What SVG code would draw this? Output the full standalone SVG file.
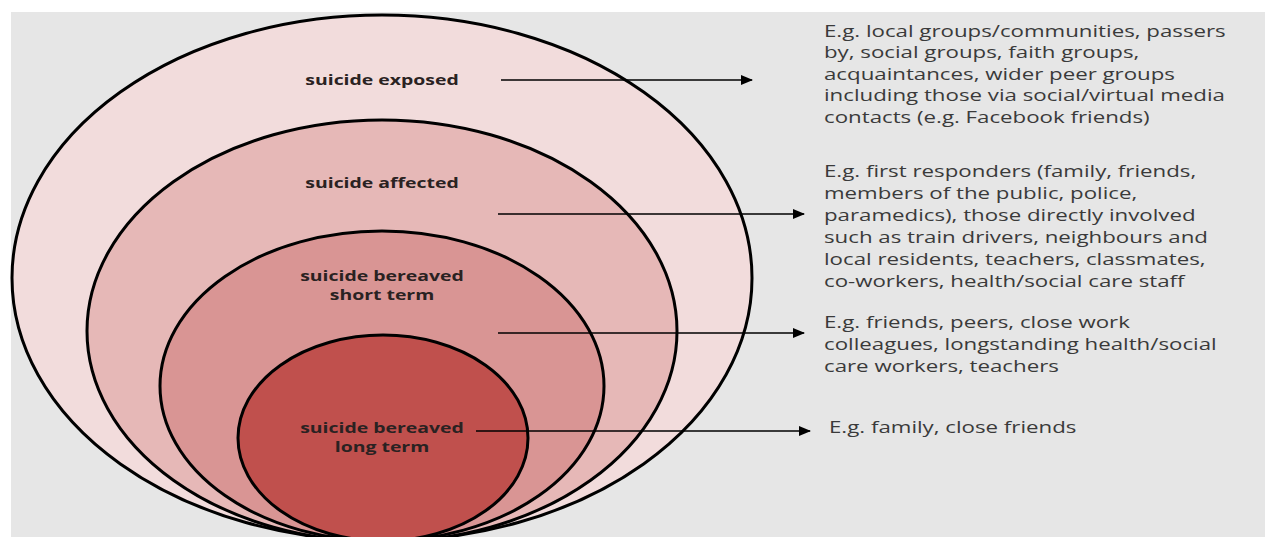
<svg xmlns="http://www.w3.org/2000/svg" width="1265" height="537" viewBox="0 0 1265 537">
<defs>
<marker id="ah" markerWidth="12" markerHeight="10" refX="11" refY="5" orient="auto" markerUnits="userSpaceOnUse">
<path d="M0,0 L12,5 L0,10 Z" fill="#000"/>
</marker>
<style>
.ring{stroke:#000;stroke-width:3}
.lbl{font-family:"Open Sans","Liberation Sans",sans-serif;font-weight:bold;font-size:14.5px;fill:#2a2222;text-anchor:middle}
.desc{font-family:"Open Sans","Liberation Sans",sans-serif;font-size:17px;fill:#3a3a3a}
.conn{stroke:#000;stroke-width:1.6;fill:none;marker-end:url(#ah)}
</style>
</defs>
<rect x="0" y="0" width="1265" height="537" fill="#ffffff"/>
<rect x="11" y="12" width="1254" height="525" fill="#e6e6e6"/>
<g id="exposed">
<ellipse class="ring" cx="382" cy="278" rx="370" ry="263" fill="#f2dcdc"/>
<text class="lbl" transform="translate(382,85) scale(1.34,1)">suicide exposed</text>
</g>
<g id="affected">
<ellipse class="ring" cx="382" cy="331" rx="295" ry="211" fill="#e6b8b7"/>
<text class="lbl" transform="translate(382,188) scale(1.34,1)">suicide affected</text>
</g>
<g id="bereaved-short">
<ellipse class="ring" cx="382" cy="386" rx="222" ry="155" fill="#d99594"/>
<text class="lbl" transform="translate(382,280.5) scale(1.34,1)">suicide bereaved</text>
<text class="lbl" transform="translate(382,299.5) scale(1.34,1)">short term</text>
</g>
<g id="bereaved-long">
<ellipse class="ring" cx="383" cy="438" rx="145" ry="103" fill="#c0504d"/>
<text class="lbl" transform="translate(382,432.5) scale(1.34,1)">suicide bereaved</text>
<text class="lbl" transform="translate(382,451.5) scale(1.34,1)">long term</text>
</g>
<g id="connectors">
<line class="conn" x1="501" y1="80" x2="752" y2="80"/>
<line class="conn" x1="498" y1="214" x2="804" y2="214"/>
<line class="conn" x1="498" y1="333" x2="804" y2="333"/>
<line class="conn" x1="476" y1="431" x2="810" y2="431"/>
</g>
<g id="desc-exposed" transform="translate(824,0) scale(1.31,1)">
<text class="desc" x="0" y="37">E.g. local groups/communities, passers</text>
<text class="desc" x="0" y="58.5">by, social groups, faith groups,</text>
<text class="desc" x="0" y="80">acquaintances, wider peer groups</text>
<text class="desc" x="0" y="101.5">including those via social/virtual media</text>
<text class="desc" x="0" y="123">contacts (e.g. Facebook friends)</text>
</g>
<g id="desc-affected" transform="translate(824,0) scale(1.31,1)">
<text class="desc" x="0" y="177">E.g. first responders (family, friends,</text>
<text class="desc" x="0" y="199">members of the public, police,</text>
<text class="desc" x="0" y="221">paramedics), those directly involved</text>
<text class="desc" x="0" y="243">such as train drivers, neighbours and</text>
<text class="desc" x="0" y="265">local residents, teachers, classmates,</text>
<text class="desc" x="0" y="287">co-workers, health/social care staff</text>
</g>
<g id="desc-short" transform="translate(824,0) scale(1.31,1)">
<text class="desc" x="0" y="328">E.g. friends, peers, close work</text>
<text class="desc" x="0" y="350">colleagues, longstanding health/social</text>
<text class="desc" x="0" y="372">care workers, teachers</text>
</g>
<g id="desc-long" transform="translate(829,0) scale(1.31,1)">
<text class="desc" x="0" y="433">E.g. family, close friends</text>
</g>
</svg>
